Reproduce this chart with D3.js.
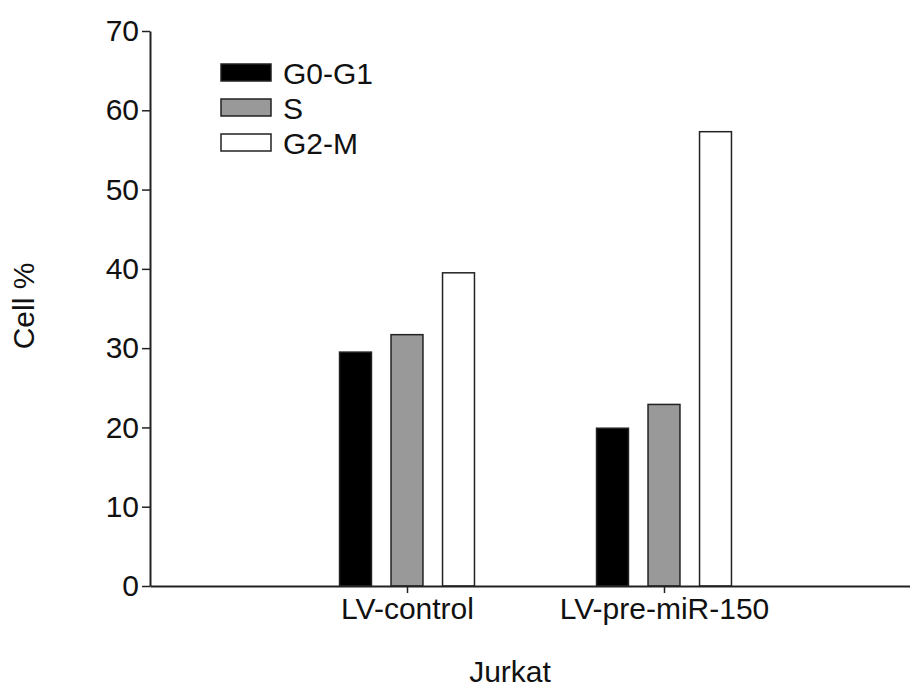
<!DOCTYPE html>
<html>
<head>
<meta charset="utf-8">
<script src="https://cdn.jsdelivr.net/npm/d3@7"></script>
<style>
  body { margin: 0; background: #fff; }
  text { font-family: "Liberation Sans", Arial, sans-serif; fill: #111; }
</style>
</head>
<body>
<div id="chart"></div>
<script>
// data
const categories = ["LV-control", "LV-pre-miR-150"];
const phases = ["G0-G1", "S", "G2-M"];
const g0g1 = [29.5, 19.9];
const sPhase = [31.7, 22.9];
const g2m = [39.5, 57.3];
const yTicks = [0, 10, 20, 30, 40, 50, 60, 70];

const colors = { "G0-G1": "#000000", "S": "#999999", "G2-M": "#ffffff" };
const seriesValues = { "G0-G1": g0g1, "S": sPhase, "G2-M": g2m };

const W = 910, H = 688;
const margin = { left: 150, top: 31, bottom: 102, right: 0 };
const baseY = H - margin.bottom; // 586
const fs = "30px";

const svg = d3.select("#chart").append("svg")
    .attr("width", W)
    .attr("height", H);

// x: categories sit at 1 and 2 on a linear track
const x = d3.scaleLinear().domain([0, 760 / 257]).range([margin.left, W]);
const y = d3.scaleLinear().domain([0, 70]).range([baseY, margin.top]);
const inner = d3.scaleBand().domain(phases).range([-77.25, 77.25])
    .paddingInner(0.38).paddingOuter(0.19);

// bars
const rows = [];
categories.forEach((c, i) => {
    phases.forEach(p => rows.push({ cat: c, idx: i + 1, phase: p, value: seriesValues[p][i] }));
});

svg.append("g").selectAll("rect")
    .data(rows)
    .enter()
    .append("rect")
    .attr("x", d => x(d.idx) + inner(d.phase))
    .attr("y", d => y(d.value))
    .attr("width", inner.bandwidth())
    .attr("height", d => baseY - y(d.value))
    .attr("fill", d => colors[d.phase])
    .attr("stroke", "#222")
    .attr("stroke-width", 1.5);

// y axis
const yAxis = svg.append("g")
    .attr("transform", `translate(${margin.left},0)`)
    .call(d3.axisLeft(y).tickValues(yTicks).tickSize(8).tickPadding(3).tickSizeOuter(0));

// x axis
const xAxis = svg.append("g")
    .attr("transform", `translate(0,${baseY})`)
    .call(d3.axisBottom(x).tickValues([1, 2]).tickFormat(d => categories[d - 1])
        .tickSize(7).tickPadding(5).tickSizeOuter(0));

[yAxis, xAxis].forEach(a => {
    a.select(".domain").attr("stroke", "#222").attr("stroke-width", 2);
    a.selectAll(".tick line").attr("stroke", "#222").attr("stroke-width", 1.5);
    a.selectAll("text")
        .style("font-family", "'Liberation Sans', Arial, sans-serif")
        .style("font-size", fs).attr("fill", "#111");
});

// axis titles
svg.append("text")
    .attr("x", 510).attr("y", 682)
    .attr("text-anchor", "middle")
    .style("font-size", fs)
    .text("Jurkat");

svg.append("text")
    .attr("transform", "translate(34,306) rotate(-90)")
    .attr("text-anchor", "middle")
    .style("font-size", fs)
    .text("Cell %");

// legend
const legend = svg.append("g").selectAll("g")
    .data(phases)
    .enter()
    .append("g")
    .attr("transform", (d, i) => `translate(221,${64 + i * 35})`);

legend.append("rect")
    .attr("width", 50).attr("height", 17)
    .attr("fill", d => colors[d])
    .attr("stroke", "#222")
    .attr("stroke-width", 1.5);

legend.append("text")
    .attr("x", 62).attr("y", 9)
    .attr("dy", "0.36em")
    .style("font-size", fs)
    .text(d => d);
</script>
</body>
</html>
